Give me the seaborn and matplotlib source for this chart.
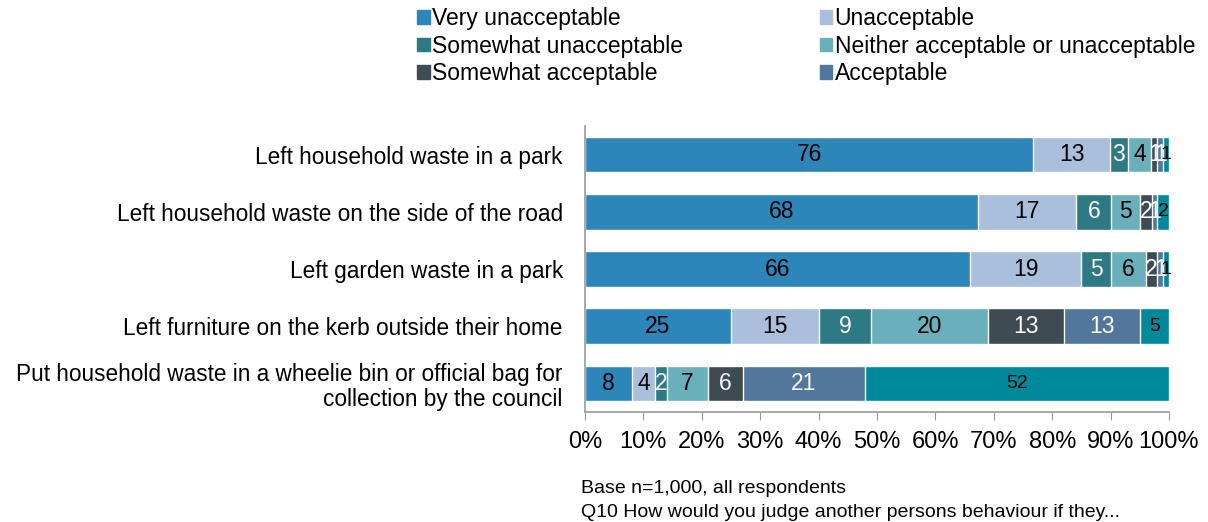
import seaborn as sns
import matplotlib.pyplot as plt
import matplotlib.patches as mpatches
import numpy as np
import pandas as pd

sns.set_style("white")
plt.rcParams['font.family'] = ['Liberation Sans', 'DejaVu Sans']
plt.rcParams['text.color'] = 'black'
plt.rcParams['xtick.color'] = 'black'
plt.rcParams['ytick.color'] = 'black'

# data
behaviours = [
    "Left household waste in a park",
    "Left household waste on the side of the road",
    "Left garden waste in a park",
    "Left furniture on the kerb outside their home",
    "Put household waste in a wheelie bin or official bag for\ncollection by the council",
]
responses = ["Very unacceptable", "Unacceptable", "Somewhat unacceptable",
             "Neither acceptable or unacceptable", "Somewhat acceptable",
             "Acceptable", "Very acceptable"]
very_unacceptable = [76, 68, 66, 25, 8]
unacceptable = [13, 17, 19, 15, 4]
somewhat_unacceptable = [3, 6, 5, 9, 2]
neither = [4, 5, 6, 20, 7]
somewhat_acceptable = [1, 2, 2, 13, 6]
acceptable = [1, 1, 1, 13, 21]
very_acceptable = [1, 2, 1, 5, 52]

colors = ["#2C86B9", "#A9BFDC", "#2E7A84", "#69B0BC", "#3E4B52", "#52779C", "#00899A"]
label_colors = ["black", "black", "white", "black", "white", "white", "black"]
label_sizes = [16.5, 16.5, 16.5, 16.5, 16.5, 16.5, 14]

vals = np.array([very_unacceptable, unacceptable, somewhat_unacceptable, neither,
                 somewhat_acceptable, acceptable, very_acceptable], dtype=float)
shares = vals / vals.sum(axis=0) * 100  # 100% stacked
cum = np.cumsum(shares, axis=0)

df = pd.DataFrame({"behaviour": behaviours})
for i, r in enumerate(responses):
    df[r] = cum[i]

fig = plt.figure(figsize=(12.08, 5.22), dpi=100)
ax = fig.add_axes([0.4843, 0.2107, 0.4834, 0.5479])

# draw cumulative totals from the last series back, so each one overlays the next
for i in range(len(responses) - 1, -1, -1):
    sns.barplot(data=df, x=responses[i], y="behaviour", color=colors[i],
                saturation=1, width=0.62, ax=ax, orient="h")

for i in range(len(responses)):
    starts = cum[i] - shares[i]
    for j in range(len(behaviours)):
        ax.text(starts[j] + shares[i][j] / 2, j, f"{int(vals[i][j])}",
                ha="center", va="center", color=label_colors[i],
                fontsize=label_sizes[i])

ax.set_xlim(0, 100)
ax.set_ylim(4.5, -0.5)
ax.set_xticks(np.arange(0, 101, 10))
ax.set_xticklabels([f"{t}%" for t in range(0, 101, 10)], fontsize=17)
ax.set_yticks(range(len(behaviours)))
ax.set_yticklabels(behaviours, fontsize=16.3, linespacing=1.1)
ax.set_yticks(np.arange(-0.5, 5, 1), minor=True)
ax.tick_params(axis="y", which="major", length=0, pad=16)
ax.tick_params(axis="y", which="minor", length=5, color="#999999", direction="out")
ax.tick_params(axis="x", length=6, color="#999999", direction="out", pad=8, bottom=True)
ax.set_xlabel("")
ax.set_ylabel("")
for s in ["top", "right"]:
    ax.spines[s].set_visible(False)
for s in ["left", "bottom"]:
    ax.spines[s].set_color("#999999")
    ax.spines[s].set_linewidth(1.2)

order = [0, 2, 4, 1, 3, 5]
handles = [mpatches.Patch(color=colors[k], label=responses[k]) for k in order]
fig.legend(handles=handles, loc="upper left", bbox_to_anchor=(0.3285, 1.026), ncol=2,
           frameon=False, fontsize=16.5, handlelength=0.55, handleheight=0.55,
           handletextpad=0.1, columnspacing=5.95, labelspacing=0.2)

fig.text(0.481, 0.065, "Base n=1,000, all respondents", fontsize=14, va="center")
fig.text(0.481, 0.019, "Q10 How would you judge another persons behaviour if they...",
         fontsize=14, va="center")

fig.savefig("out.png", dpi=100)
